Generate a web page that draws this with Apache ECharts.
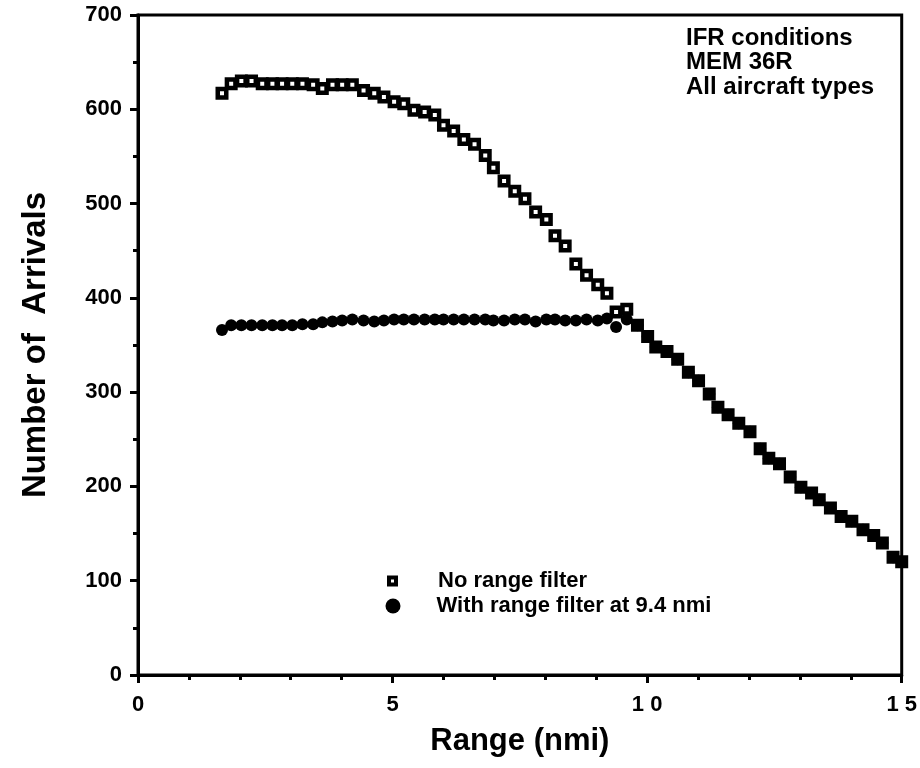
<!DOCTYPE html>
<html>
<head>
<meta charset="utf-8">
<script src="https://cdn.jsdelivr.net/npm/echarts@6/dist/echarts.min.js"></script>
<style>
html,body{margin:0;padding:0;background:#fff;}
#chart{width:920px;height:768px;}
</style>
</head>
<body>
<div id="chart"></div>
<script>
// Range (nmi) for the section where the two series differ
const rangeHead = [1.65, 1.83, 2.03, 2.23, 2.44, 2.64, 2.83, 3.03, 3.23, 3.44, 3.62, 3.82, 4.01, 4.21,
  4.43, 4.64, 4.83, 5.03, 5.22, 5.42, 5.63, 5.83, 6.0, 6.2, 6.4, 6.61, 6.82, 6.98, 7.19, 7.4, 7.6,
  7.81, 8.02, 8.19, 8.39, 8.6, 8.81, 9.03, 9.21, 9.39, 9.6];
// No range filter, arrivals
const noFilterHead = [617, 627, 630, 630, 627, 627, 627, 627, 627, 626, 622, 626, 626, 626,
  620, 617, 613, 608, 606, 599, 597, 594, 583, 577, 568, 563, 551, 538, 524, 513, 505,
  491, 483, 466, 455, 436, 424, 414, 405, 385, 388];
// With range filter at 9.4 nmi, arrivals
const withFilterHead = [366, 371, 371, 371, 371, 371, 371, 371, 372, 372, 374, 375, 376, 377,
  376, 375, 376, 377, 377, 377, 377, 377, 377, 377, 377, 377, 377, 376, 376, 377, 377,
  375, 377, 377, 376, 376, 377, 376, 378, 369, 377];
// Range beyond the filter, both series coincide
const rangeTail = [9.81, 10.01, 10.17, 10.39, 10.6, 10.81, 11.01, 11.22, 11.39, 11.59, 11.8, 12.02,
  12.22, 12.39, 12.6, 12.81, 13.02, 13.23, 13.38, 13.6, 13.81, 14.02, 14.24, 14.45, 14.62, 14.83, 15.0];
const tailValues = [371, 359, 348, 343, 335, 321, 312, 298, 284, 276, 267, 258,
  240, 230, 224, 210, 199, 193, 186, 177, 168, 163, 154, 148, 140, 125, 120];

const xTickLabels = {0: '0', 5: '5', 10: '1 0', 15: '1 5'};
const seriesNames = ['No range filter', 'With range filter at 9.4 nmi'];
const noteLines = ['IFR conditions', 'MEM 36R', 'All aircraft types'];

function pairs(xs, ys) { return xs.map((x, i) => [x, ys[i]]); }

const FONT = '"Liberation Sans", Arial, Helvetica, sans-serif';
const chart = echarts.init(document.getElementById('chart'), null, {renderer: 'canvas'});

const legendText = {fontFamily: FONT, fontSize: 22, fontWeight: 'bold', color: '#000', lineHeight: 22};

chart.setOption({
  backgroundColor: '#fff',
  animation: false,
  title: {
    text: noteLines.join('\n'),
    left: 681, top: 21,
    textStyle: {fontFamily: FONT, fontSize: 24, fontWeight: 'bold', color: '#000', lineHeight: 24.5}
  },
  grid: {left: 138, right: 18, top: 15, bottom: 93, show: true, borderColor: '#000', borderWidth: 3, backgroundColor: 'transparent'},
  legend: [
    {
      orient: 'vertical', left: 382, top: 565, padding: 5,
      itemWidth: 7, itemHeight: 7,
      textStyle: Object.assign({padding: [0, 0, 0, 37]}, legendText),
      data: [{name: seriesNames[0], icon: 'rect', itemStyle: {color: '#fff', borderColor: '#000', borderWidth: 4}}]
    },
    {
      orient: 'vertical', left: 380.5, top: 590, padding: 5,
      itemWidth: 15, itemHeight: 15,
      textStyle: Object.assign({padding: [0, 0, 0, 31]}, legendText),
      data: [{name: seriesNames[1], icon: 'circle', itemStyle: {color: '#000', borderColor: '#000', borderWidth: 0}}]
    }
  ],
  xAxis: {
    type: 'value', min: 0, max: 15, interval: 5,
    name: 'Range (nmi)', nameLocation: 'middle', nameGap: 51,
    nameTextStyle: {fontFamily: FONT, fontSize: 31, fontWeight: 'bold', color: '#000'},
    axisLine: {show: true, onZero: false, lineStyle: {color: '#000', width: 3}},
    axisTick: {show: true, inside: false, length: 8, lineStyle: {color: '#000', width: 3}},
    minorTick: {show: true, splitNumber: 5, length: 5, lineStyle: {color: '#000', width: 3}},
    splitLine: {show: false},
    axisLabel: {margin: 19, fontFamily: FONT, fontSize: 22, fontWeight: 'bold', color: '#000',
      formatter: v => xTickLabels[v] !== undefined ? xTickLabels[v] : String(v)}
  },
  yAxis: {
    type: 'value', min: 0, max: 700, interval: 100,
    name: 'Number of  Arrivals', nameLocation: 'middle', nameGap: 86, nameRotate: 90,
    nameTextStyle: {fontFamily: FONT, fontSize: 33, fontWeight: 'bold', color: '#000'},
    axisLine: {show: true, onZero: false, lineStyle: {color: '#000', width: 3}},
    axisTick: {show: true, inside: false, length: 8, lineStyle: {color: '#000', width: 3}},
    minorTick: {show: true, splitNumber: 2, length: 5, lineStyle: {color: '#000', width: 3}},
    splitLine: {show: false},
    axisLabel: {margin: 16, fontFamily: FONT, fontSize: 22, fontWeight: 'bold', color: '#000'}
  },
  series: [
    {
      name: seriesNames[0], type: 'scatter', symbol: 'rect', symbolSize: 8.5,
      itemStyle: {color: '#fff', borderColor: '#000', borderWidth: 4.5, opacity: 1},
      data: pairs(rangeHead.concat(rangeTail), noFilterHead.concat(tailValues)),
      z: 2
    },
    {
      name: seriesNames[1], type: 'scatter', symbol: 'circle', symbolSize: 12,
      itemStyle: {color: '#000', borderColor: '#000', borderWidth: 0, opacity: 1},
      data: pairs(rangeHead.concat(rangeTail), withFilterHead.concat(tailValues)),
      z: 3
    }
  ]
});
</script>
</body>
</html>
